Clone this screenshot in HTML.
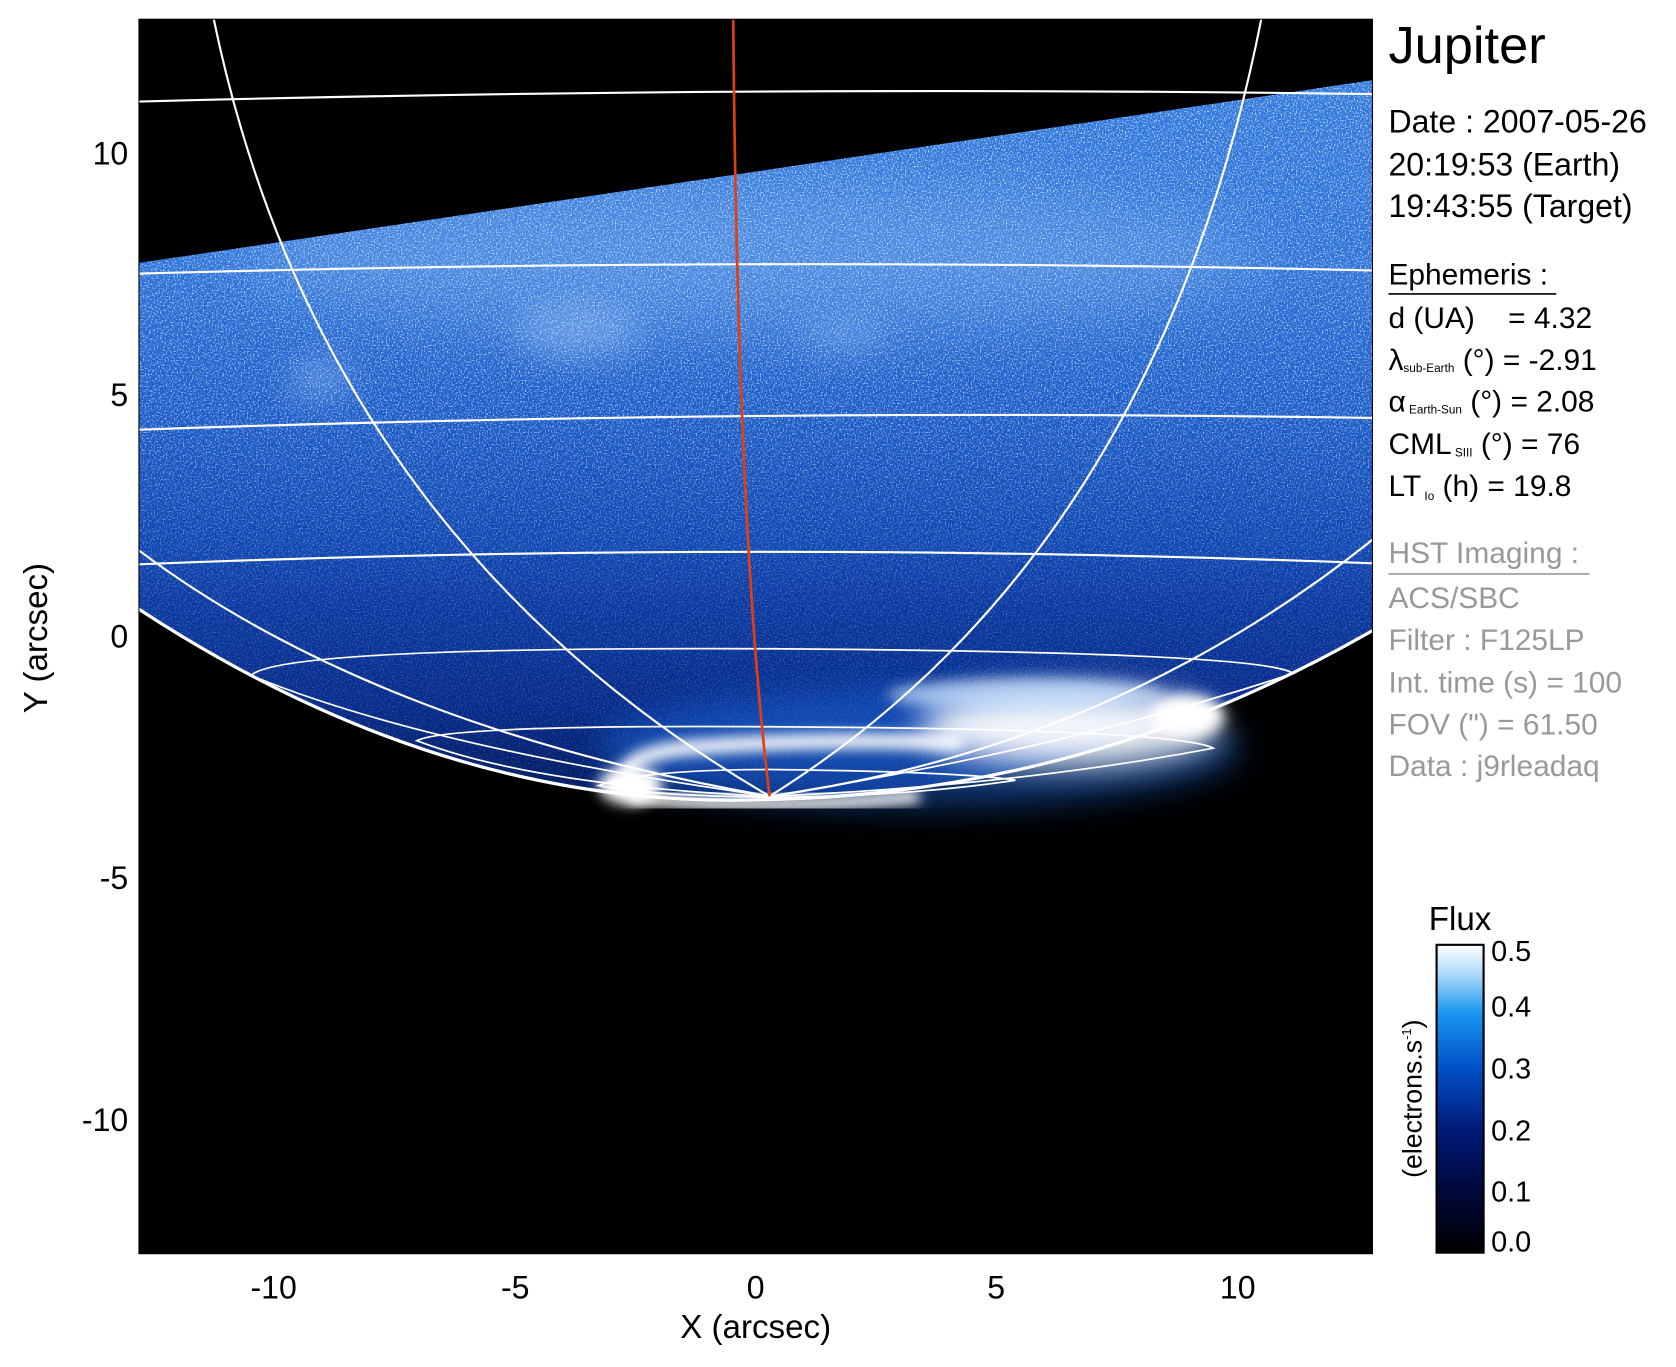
<!DOCTYPE html>
<html><head><meta charset="utf-8"><style>
html,body{margin:0;padding:0;background:#fff}
svg{display:block}
text{font-family:"Liberation Sans",sans-serif}
</style></head><body>
<svg width="1676" height="1367" viewBox="0 0 1568 1279" preserveAspectRatio="none" xmlns="http://www.w3.org/2000/svg">
<defs>
<linearGradient id="dg" gradientUnits="userSpaceOnUse" x1="0" y1="80" x2="0" y2="760">
<stop offset="0" stop-color="#2f78dc"/>
<stop offset="0.25" stop-color="#2c72d8"/>
<stop offset="0.45" stop-color="#1c5cc8"/>
<stop offset="0.62" stop-color="#1048b4"/>
<stop offset="0.72" stop-color="#0a38a0"/>
<stop offset="0.86" stop-color="#062a88"/>
<stop offset="1" stop-color="#041a58"/>
</linearGradient>
<linearGradient id="cb" x1="0" y1="1" x2="0" y2="0">
<stop offset="0" stop-color="#000000"/>
<stop offset="0.2" stop-color="#00083a"/>
<stop offset="0.4" stop-color="#001a78"/>
<stop offset="0.6" stop-color="#0050c8"/>
<stop offset="0.78" stop-color="#1a98f0"/>
<stop offset="0.9" stop-color="#a8d8fa"/>
<stop offset="1" stop-color="#ffffff"/>
</linearGradient>
<linearGradient id="nfade" gradientUnits="userSpaceOnUse" x1="0" y1="80" x2="0" y2="760">
<stop offset="0" stop-color="#fff" stop-opacity="1"/>
<stop offset="0.45" stop-color="#fff" stop-opacity="0.8"/>
<stop offset="0.7" stop-color="#fff" stop-opacity="0.35"/>
<stop offset="1" stop-color="#fff" stop-opacity="0.1"/>
</linearGradient>
<mask id="nmask"><rect x="130" y="18" width="1154" height="760" fill="url(#nfade)"/></mask>
<clipPath id="diskclip"><path d="M130,246 L1284,75 L1284,590 Q1020,742 720,748 Q420,760 130,570 Z"/></clipPath>
<clipPath id="plot"><rect x="130" y="18" width="1154" height="1155"/></clipPath>
<filter id="noise" x="130" y="18" width="1154" height="760" filterUnits="userSpaceOnUse">
<feTurbulence type="fractalNoise" baseFrequency="0.7" numOctaves="1" seed="3"/>
<feColorMatrix type="matrix" values="0 0 0 0 0.8  0 0 0 0 0.9  0 0 0 0 1  3 0 0 0 -1.45"/>
</filter>
<filter id="blur6" x="-50%" y="-50%" width="200%" height="200%"><feGaussianBlur stdDeviation="6"/></filter>
<filter id="blur15" x="-50%" y="-100%" width="200%" height="300%"><feGaussianBlur stdDeviation="15"/></filter>
<filter id="blur30" x="-50%" y="-100%" width="200%" height="300%"><feGaussianBlur stdDeviation="30"/></filter>
</defs>
<rect x="130" y="18" width="1154" height="1155" fill="#000"/>
<g clip-path="url(#plot)">
<g clip-path="url(#diskclip)">
<rect x="130" y="18" width="1154" height="760" fill="url(#dg)"/>
<ellipse cx="700" cy="240" rx="480" ry="70" fill="#8fc0f5" opacity="0.3" filter="url(#blur30)"/>
<ellipse cx="540" cy="310" rx="60" ry="25" fill="#9cc8f8" opacity="0.4" filter="url(#blur15)"/>
<ellipse cx="300" cy="355" rx="30" ry="18" fill="#9cc8f8" opacity="0.4" filter="url(#blur15)"/>
<ellipse cx="790" cy="315" rx="40" ry="15" fill="#9cc8f8" opacity="0.3" filter="url(#blur15)"/>
<g mask="url(#nmask)"><rect x="130" y="18" width="1154" height="760" filter="url(#noise)"/></g>
</g>
<g>
<ellipse cx="860" cy="700" rx="300" ry="55" fill="#1c6be0" opacity="0.5" filter="url(#blur15)"/>
<ellipse cx="1000" cy="680" rx="140" ry="35" fill="#fff" opacity="0.95" filter="url(#blur15)"/>
<ellipse cx="960" cy="650" rx="130" ry="15" fill="#cfe6ff" opacity="0.7" filter="url(#blur6)"/>
<ellipse cx="1110" cy="670" rx="35" ry="20" fill="#fff" filter="url(#blur6)"/>
<path d="M600,745 Q560,710 640,700 Q760,690 900,695" fill="none" stroke="#fff" stroke-width="14" filter="url(#blur6)"/>
<path d="M590,745 Q700,760 860,745" fill="none" stroke="#fff" stroke-width="12" filter="url(#blur6)"/>
<ellipse cx="590" cy="735" rx="30" ry="18" fill="#fff" filter="url(#blur6)"/>
</g>
<g fill="none" stroke="#fff" stroke-width="2">
<path d="M130,95 Q700,80 1284,88"/>
<path d="M130,256 Q700,240 1284,253"/>
<path d="M130,402 Q700,382 1284,391"/>
<path d="M130,528 Q700,505 1284,527"/>
<path d="M235,632 Q260,605 720,607 Q1180,610 1210,630 Q1000,700 720,745 Q400,700 235,632Z" stroke-width="1.6"/>
<path d="M390,693 Q420,678 720,680 Q1100,682 1135,700 Q950,735 720,745 Q500,735 390,693Z" stroke-width="1.6"/>
<path d="M560,735 Q600,720 720,720 Q900,722 950,730 Q850,745 720,746 Q600,744 560,735Z" stroke-width="1.6"/>
<path d="M200,18 Q300,500 720,745"/>
<path d="M130,515 Q350,680 720,745"/>
<path d="M1180,18 Q1080,520 720,745"/>
<path d="M1284,505 Q1040,700 720,745"/>
<path d="M130,570 Q420,760 720,748 Q1020,742 1284,590" stroke-width="3"/>
</g>
<path d="M686,18 Q690,500 720,745" fill="none" stroke="#e04010" stroke-width="2.5"/>
</g>
<rect x="130" y="18" width="1154" height="1155" fill="none" stroke="#000" stroke-width="1"/>
<g font-size="30" fill="#000" text-anchor="middle">
<text x="256" y="1215">-10</text>
<text x="482" y="1215">-5</text>
<text x="707" y="1215">0</text>
<text x="932" y="1215">5</text>
<text x="1158" y="1215">10</text>
<text x="707" y="1252" font-size="31">X (arcsec)</text>
</g>
<g font-size="30" fill="#000" text-anchor="end">
<text x="120" y="154">10</text>
<text x="120" y="380">5</text>
<text x="120" y="606">0</text>
<text x="120" y="832">-5</text>
<text x="120" y="1058">-10</text>
</g>
<text transform="translate(44,597) rotate(-90)" font-size="31" text-anchor="middle">Y (arcsec)</text>
<g fill="#000">
<text x="1299" y="59" font-size="49">Jupiter</text>
<text x="1299" y="124" font-size="30">Date : 2007-05-26</text>
<text x="1299" y="164" font-size="30">20:19:53 (Earth)</text>
<text x="1299" y="203" font-size="30">19:43:55 (Target)</text>
<text x="1299" y="266" font-size="28">Ephemeris :</text>
<line x1="1299" y1="275" x2="1456" y2="275" stroke="#000" stroke-width="1.5"/>
<text x="1299" y="307" font-size="28">d (UA)&#160;&#160;&#160;&#160;= 4.32</text>
<text x="1299" y="346" font-size="28">λ<tspan font-size="11" dy="2">sub-Earth</tspan><tspan dy="-2"> (°) = -2.91</tspan></text>
<text x="1299" y="385" font-size="28">α<tspan font-size="11" dy="2"> Earth-Sun</tspan><tspan dy="-2"> (°) = 2.08</tspan></text>
<text x="1299" y="425" font-size="28">CML<tspan font-size="11" dy="2"> SIII</tspan><tspan dy="-2"> (°) = 76</tspan></text>
<text x="1299" y="464" font-size="28">LT<tspan font-size="11" dy="4"> Io</tspan><tspan dy="-4"> (h) = 19.8</tspan></text>
</g>
<g fill="#999" font-size="28">
<text x="1299" y="527">HST Imaging :</text>
<line x1="1299" y1="537" x2="1487" y2="537" stroke="#999" stroke-width="1.5"/>
<text x="1299" y="569">ACS/SBC</text>
<text x="1299" y="608">Filter : F125LP</text>
<text x="1299" y="648">Int. time (s) = 100</text>
<text x="1299" y="687">FOV (") = 61.50</text>
<text x="1299" y="726">Data : j9rleadaq</text>
</g>
<text x="1366" y="870" font-size="31" text-anchor="middle">Flux</text>
<rect x="1344" y="884" width="44" height="288" fill="url(#cb)" stroke="#000" stroke-width="2"/>
<g font-size="27" fill="#000">
<text x="1395" y="899">0.5</text>
<text x="1395" y="951">0.4</text>
<text x="1395" y="1009">0.3</text>
<text x="1395" y="1067">0.2</text>
<text x="1395" y="1124">0.1</text>
<text x="1395" y="1171">0.0</text>
</g>
<text transform="translate(1330,1028) rotate(-90)" font-size="25" text-anchor="middle">(electrons.s<tspan font-size="12" dy="-10">-1</tspan><tspan dy="10">)</tspan></text>
</svg>
</body></html>
